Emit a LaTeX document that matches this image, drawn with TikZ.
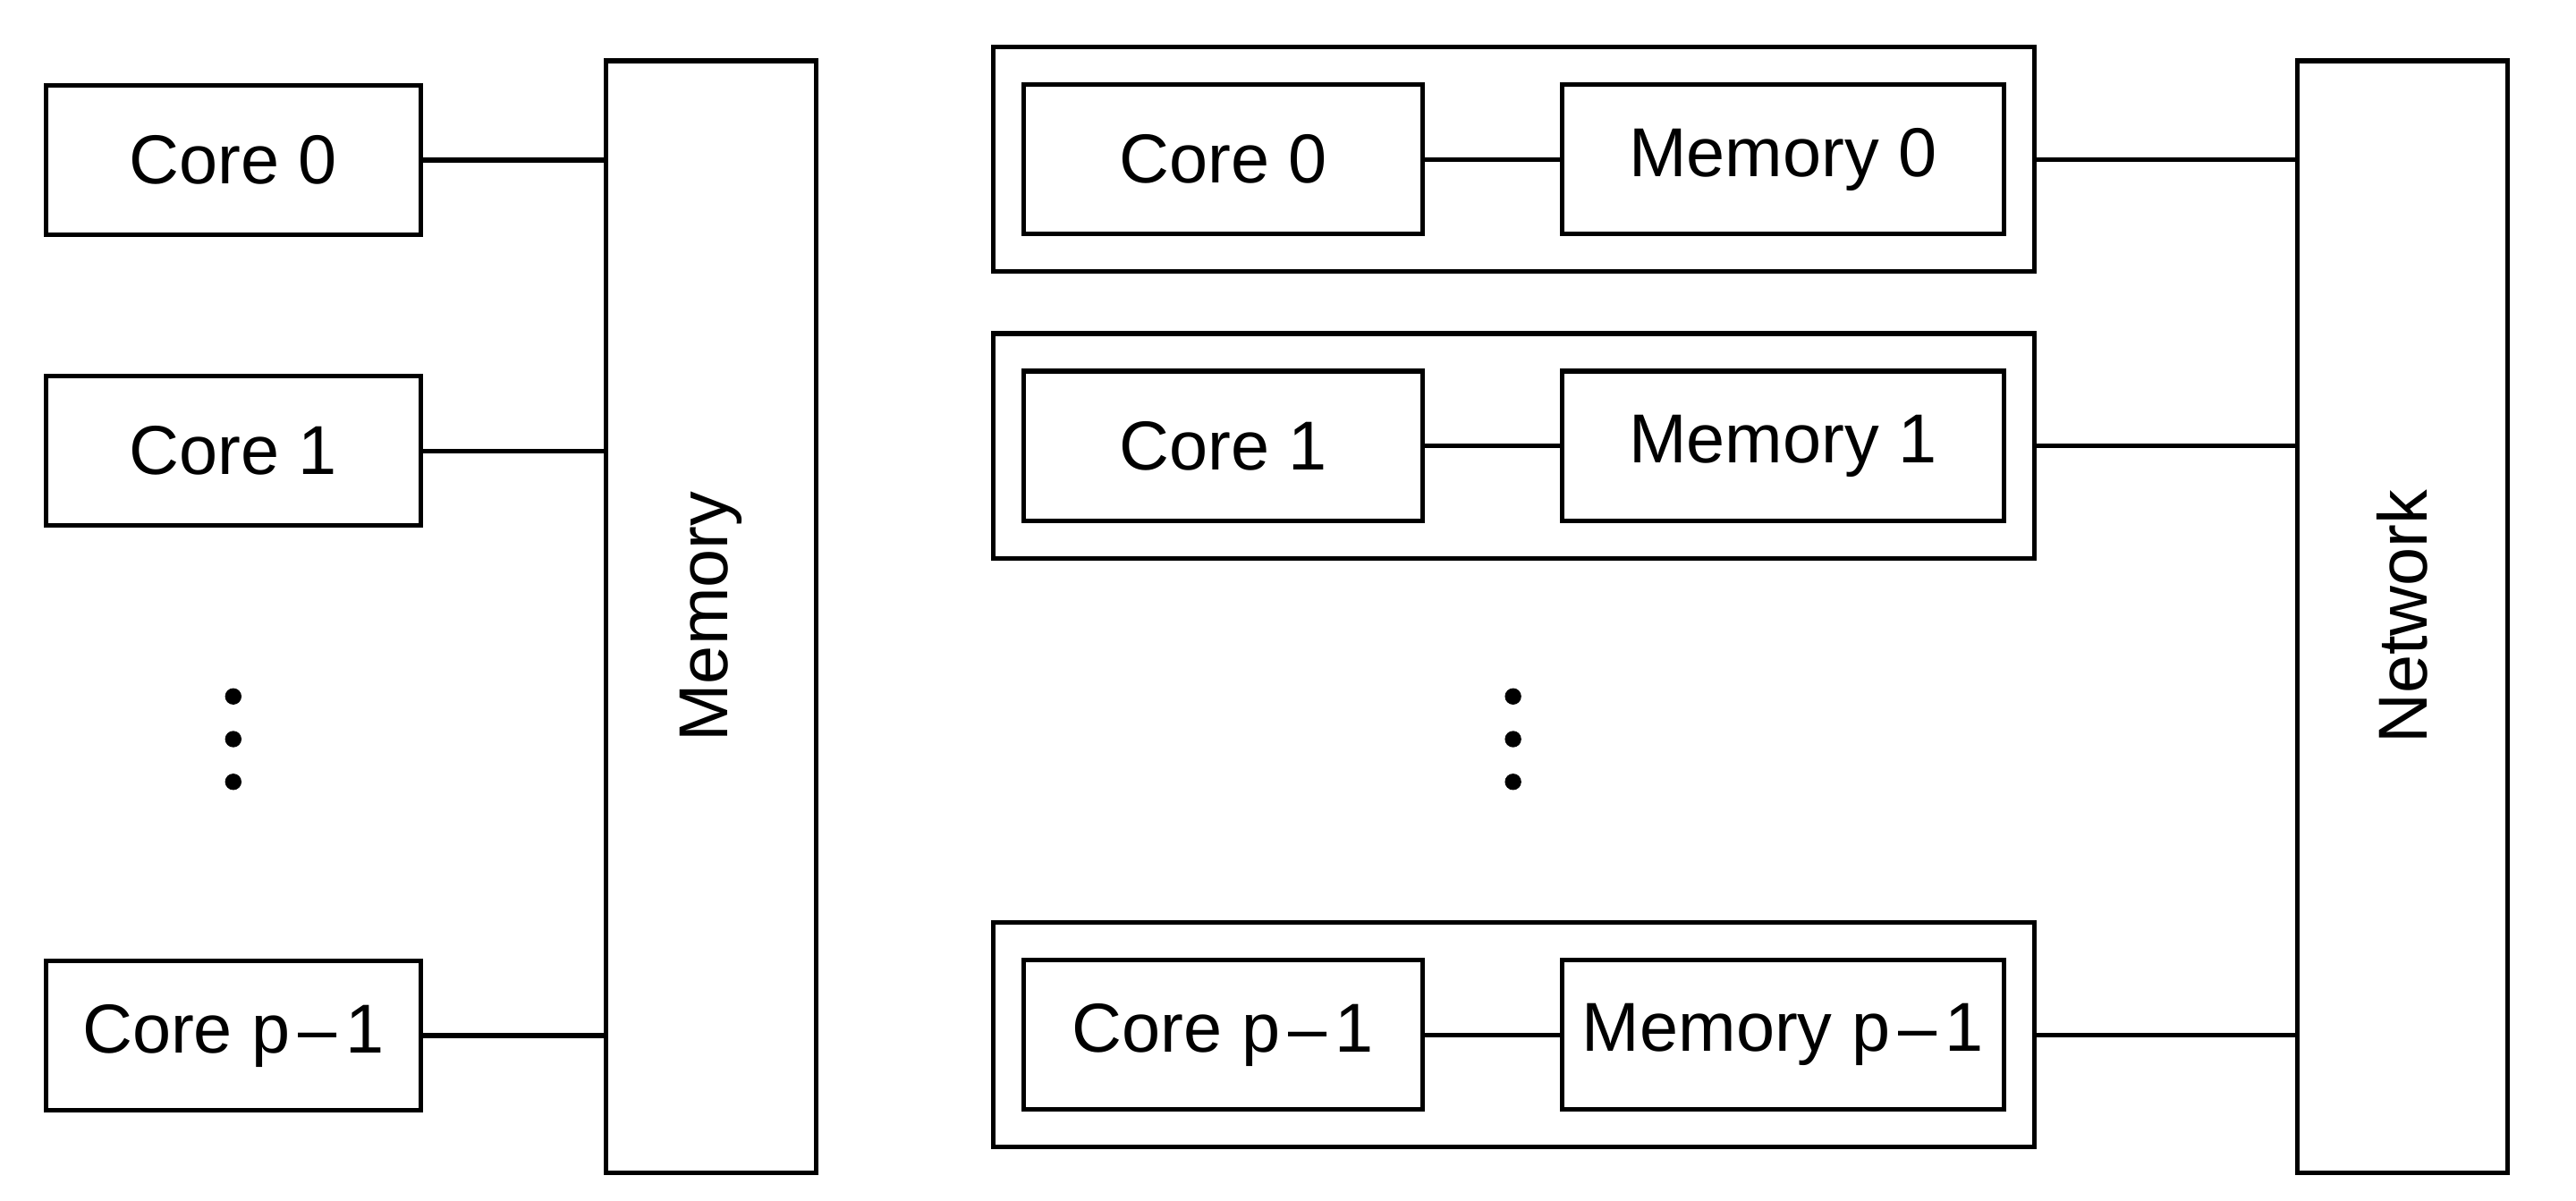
\documentclass[tikz,border=0pt]{standalone}
\usepackage{fontspec}
\setmainfont{Liberation Sans}
\usetikzlibrary{positioning, fit}

\begin{document}
\begin{tikzpicture}[
      box/.style={draw, line width=0.8pt, minimum height=0.91cm, inner sep=0pt,
                  font=\fontsize{12}{14}\selectfont, align=center},
      corebox/.style={box, minimum width=2.28cm},
      membox/.style={box, minimum width=2.69cm},
      bus/.style={draw, line width=0.8pt, minimum width=1.28cm, minimum height=6.77cm,
                  inner sep=0pt},
      tile/.style={draw, line width=0.8pt, fit=#1, inner xsep=0.17cm, inner ysep=0.215cm},
      link/.style={line width=0.8pt}]
    \useasboundingbox (0,0) rectangle (15.68,7.31);
    % shared memory
    \node[corebox] (c0) at (1.42,6.335) {Core 0};
    \node[corebox] (c1) at (1.42,4.565) {Core 1};
    \node[corebox] (cp) at (1.42,1.005) {Core p\kern0.12em--\kern0.12em 1};
    \node[bus] (mem) at (4.33,3.555) {};
    \node[rotate=90, font=\fontsize{12}{14}\selectfont] at (mem) {Memory};
    \draw[link] (c0) -- (c0 -| mem.west);
    \draw[link] (c1) -- (c1 -| mem.west);
    \draw[link] (cp) -- (cp -| mem.west);
    \foreach \y in {3.07,2.81,2.55} \fill (1.42,\y) circle (0.05);
    % distributed memory
    \node[box, minimum width=2.43cm] (dc0) at (7.445,6.34) {Core 0};
    \node[membox, right=0.82cm of dc0] (dm0) {Memory 0};
    \node[box, minimum width=2.43cm] (dc1) at (7.445,4.595) {Core 1};
    \node[membox, right=0.82cm of dc1] (dm1) {Memory 1};
    \node[box, minimum width=2.43cm] (dcp) at (7.445,1.01) {Core p\kern0.12em--\kern0.12em 1};
    \node[membox, right=0.82cm of dcp] (dmp) {Memory p\kern0.12em--\kern0.12em 1};
    \node[tile={(dc0) (dm0)}] (n0) {};
    \node[tile={(dc1) (dm1)}] (n1) {};
    \node[tile={(dcp) (dmp)}] (np) {};
    \node[bus] (net) at (14.625,3.555) {};
    \node[rotate=90, font=\fontsize{12}{14}\selectfont] at (net) {Network};
    \draw[link] (dc0) -- (dm0); \draw[link] (dc1) -- (dm1); \draw[link] (dcp) -- (dmp);
    \draw[link] (n0.east) -- (n0.east -| net.west);
    \draw[link] (n1.east) -- (n1.east -| net.west);
    \draw[link] (np.east) -- (np.east -| net.west);
    \foreach \y in {3.07,2.81,2.55} \fill (9.21,\y) circle (0.05);
  \end{tikzpicture}
\end{document}
